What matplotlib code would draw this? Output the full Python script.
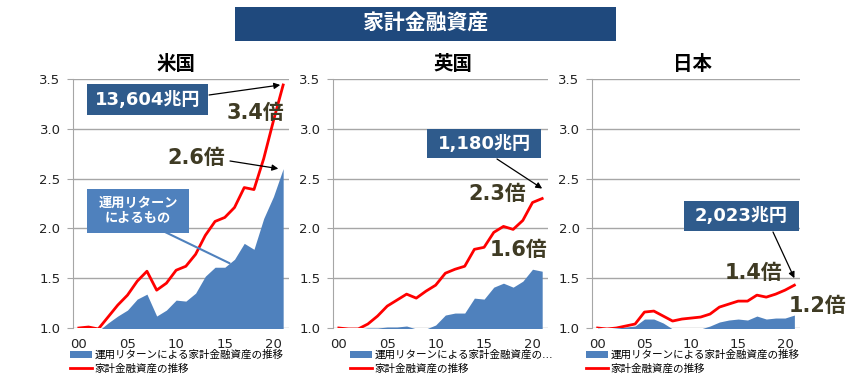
import numpy as np
import matplotlib
matplotlib.use("Agg")
import matplotlib.pyplot as plt
from matplotlib.patches import Rectangle, Patch
from matplotlib.lines import Line2D

plt.rcParams['font.family'] = ['DejaVu Sans', 'Noto Sans CJK JP']

# years 2000-2021 (index from 2000)
years = np.arange(22)
xtick_pos = [0, 5, 10, 15, 20]
xtick_labels = ['00', '05', '10', '15', '20']

# 家計金融資産の推移 (2000 = 1.0)
us_total = [1.00, 1.01, 0.99, 1.11, 1.23, 1.33, 1.47, 1.57, 1.38, 1.45, 1.58, 1.62, 1.74, 1.93, 2.07, 2.11, 2.21, 2.41, 2.39, 2.70, 3.08, 3.44]
uk_total = [1.00, 0.99, 0.99, 1.04, 1.12, 1.22, 1.28, 1.34, 1.30, 1.37, 1.43, 1.55, 1.59, 1.62, 1.79, 1.81, 1.96, 2.02, 1.99, 2.08, 2.26, 2.30]
jp_total = [1.00, 0.99, 1.00, 1.02, 1.04, 1.16, 1.17, 1.12, 1.07, 1.09, 1.10, 1.11, 1.14, 1.21, 1.24, 1.27, 1.27, 1.33, 1.31, 1.34, 1.38, 1.43]

# 運用リターンによる家計金融資産の推移
us_return = [0.97, 0.96, 0.97, 1.05, 1.12, 1.18, 1.29, 1.34, 1.12, 1.18, 1.28, 1.27, 1.35, 1.52, 1.61, 1.61, 1.69, 1.85, 1.79, 2.10, 2.32, 2.60]
uk_return = [0.99, 0.99, 0.99, 1.00, 1.00, 1.01, 1.01, 1.02, 0.99, 0.99, 1.03, 1.13, 1.15, 1.15, 1.30, 1.29, 1.41, 1.45, 1.41, 1.47, 1.59, 1.57]
jp_return = [1.00, 0.99, 1.00, 1.01, 1.02, 1.09, 1.09, 1.05, 0.99, 0.99, 0.99, 0.99, 1.02, 1.06, 1.08, 1.09, 1.08, 1.12, 1.09, 1.10, 1.10, 1.13]

countries = ['米国', '英国', '日本']
totals = [us_total, uk_total, jp_total]
returns = [us_return, uk_return, jp_return]
legend_return = ['運用リターンによる家計金融資産の推移',
                 '運用リターンによる家計金融資産の…',
                 '運用リターンによる家計金融資産の推移']
legend_total = '家計金融資産の推移'

BLUE = '#4F81BD'
RED = '#FF0000'
NAVY = '#1F497D'
BOX = '#2F5B8C'
OLIVE = '#3F3B24'

W, H = 850, 390
fig = plt.figure(figsize=(W / 100, H / 100), dpi=100)


def fxy(px, py):
    return (px / W, 1 - py / H)


def box(x0, y0, x1, y1, color, text, size):
    fig.add_artist(Rectangle(fxy(x0, y1), (x1 - x0) / W, (y1 - y0) / H,
                             transform=fig.transFigure, facecolor=color,
                             edgecolor='none', zorder=1))
    fig.text(*fxy((x0 + x1) / 2, (y0 + y1) / 2), text, color='white',
             fontsize=size, fontweight='bold', ha='center', va='center',
             linespacing=1.25, zorder=3)


# axes extents in pixels: left, right
panels = [(73, 289), (333, 548), (592, 800)]
legend_left = [70, 350, 586]
title_x = [176, 453, 692]
axes = []
for i, (l, r) in enumerate(panels):
    ax = fig.add_axes([l / W, 1 - 328 / H, (r - l) / W, (328 - 79) / H])
    ax.fill_between(years, 0, returns[i], color=BLUE, lw=0, zorder=2)
    ax.plot(years, totals[i], color=RED, lw=2, zorder=3)
    ax.set_xlim(-0.6, 21.6)
    ax.set_ylim(1.0, 3.5)
    ax.set_yticks([1.0, 1.5, 2.0, 2.5, 3.0, 3.5])
    ax.set_yticklabels(['1.0', '1.5', '2.0', '2.5', '3.0', '3.5'])
    ax.set_xticks(xtick_pos)
    ax.set_xticklabels(xtick_labels)
    ax.grid(axis='y', color='#A6A6A6', lw=1, zorder=1)
    ax.set_axisbelow(True)
    for s in ['top', 'right', 'bottom']:
        ax.spines[s].set_visible(False)
    ax.spines['left'].set_color('#A6A6A6')
    ax.tick_params(axis='y', length=4, color='#A6A6A6', labelsize=9.5,
                   pad=5, labelcolor='#222222')
    ax.tick_params(axis='x', length=0, labelsize=9.5, pad=7,
                   labelcolor='#222222')
    fig.text(*fxy(title_x[i], 64), countries[i], fontsize=14,
             fontweight='bold', ha='center', va='center')
    handles = [Patch(facecolor=BLUE, edgecolor='none'),
               Line2D([0], [0], color=RED, lw=2)]
    ax.legend(handles, [legend_return[i], legend_total], loc='upper left',
              bbox_to_anchor=fxy(legend_left[i], 350),
              bbox_transform=fig.transFigure, frameon=False, fontsize=7.6,
              borderpad=0, borderaxespad=0, handlelength=2.1,
              handletextpad=0.2, labelspacing=0.3)
    axes.append(ax)

ax_us, ax_uk, ax_jp = axes

# header
box(235, 7, 616, 41, NAVY, '家計金融資産', 15)

arrow = dict(arrowstyle='-|>', color='black', lw=0.9, mutation_scale=9,
             shrinkA=0, shrinkB=0)

# US
box(87, 84, 208, 115, BOX, '13,604兆円', 13)
ax_us.annotate('', xy=(years[-1] - 0.3, us_total[-1]), xytext=fxy(209, 95),
               textcoords='figure fraction', arrowprops=arrow)
fig.text(*fxy(255, 113), '3.4倍', color=OLIVE, fontsize=15,
         fontweight='bold', ha='center', va='center')
fig.text(*fxy(196, 158), '2.6倍', color=OLIVE, fontsize=15,
         fontweight='bold', ha='center', va='center')
ax_us.annotate('', xy=(years[-1] - 0.5, us_return[-1]), xytext=fxy(230, 161),
               textcoords='figure fraction', arrowprops=arrow)
box(87, 189, 189, 233, BLUE, '運用リターン\nによるもの', 9.5)
ax_us.annotate('', xy=(15.5, np.interp(15.5, years, us_return)),
               xytext=fxy(165, 232), textcoords='figure fraction',
               arrowprops=dict(arrowstyle='-', color=BLUE, lw=1.5,
                               shrinkA=0, shrinkB=0))

# UK
box(427, 129, 541, 158, BOX, '1,180兆円', 13)
ax_uk.annotate('', xy=(years[-1], uk_total[-1] + 0.1), xytext=fxy(497, 159),
               textcoords='figure fraction', arrowprops=arrow)
fig.text(*fxy(497, 194), '2.3倍', color=OLIVE, fontsize=15,
         fontweight='bold', ha='center', va='center')
fig.text(*fxy(519, 250), '1.6倍', color=OLIVE, fontsize=15,
         fontweight='bold', ha='center', va='center')

# Japan
box(684, 201, 799, 231, BOX, '2,023兆円', 13)
ax_jp.annotate('', xy=(years[-1], jp_total[-1] + 0.07), xytext=fxy(773, 232),
               textcoords='figure fraction', arrowprops=arrow)
fig.text(*fxy(754, 273), '1.4倍', color=OLIVE, fontsize=15,
         fontweight='bold', ha='center', va='center')
fig.text(*fxy(818, 306), '1.2倍', color=OLIVE, fontsize=15,
         fontweight='bold', ha='center', va='center')

fig.savefig('out.png', dpi=100, facecolor='white')
